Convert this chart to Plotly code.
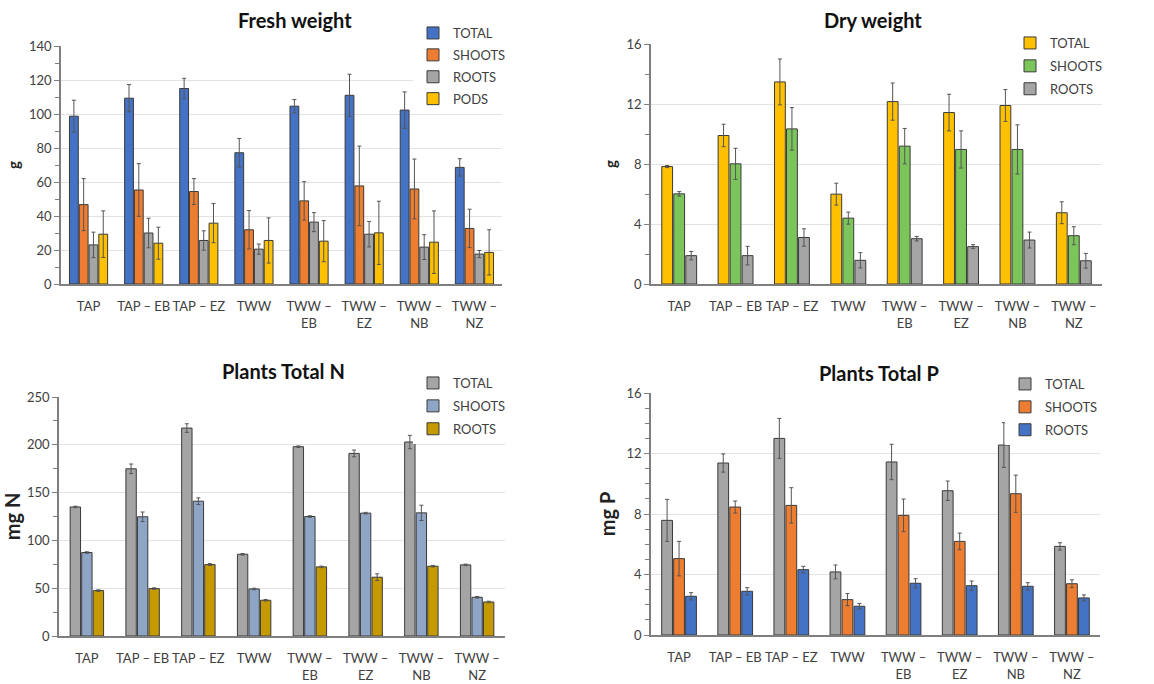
import plotly.graph_objects as go

categories = ["TAP", "TAP – EB", "TAP – EZ", "TWW", "TWW –<br>EB", "TWW –<br>EZ", "TWW –<br>NB", "TWW –<br>NZ"]

# Fresh weight (g)
fw_total = [98.7, 109.3, 115.0, 77.2, 104.6, 111.0, 102.3, 68.6]
fw_total_err = [9.4, 8.0, 6.0, 8.4, 3.9, 12.4, 10.7, 5.1]
fw_shoots = [46.7, 55.3, 54.4, 31.9, 48.9, 57.7, 55.9, 32.7]
fw_shoots_err = [15.3, 15.5, 7.6, 11.3, 11.3, 23.4, 17.6, 11.3]
fw_roots = [23.0, 30.0, 25.6, 20.5, 36.4, 29.3, 21.7, 17.6]
fw_roots_err = [7.5, 8.7, 5.7, 3.0, 5.6, 7.5, 7.3, 2.1]
fw_pods = [29.3, 24.0, 35.8, 25.6, 25.2, 30.1, 24.6, 18.6]
fw_pods_err = [13.7, 9.4, 11.5, 13.3, 12.1, 18.6, 18.4, 13.3]

# Dry weight (g)
dw_total = [7.83, 9.9, 13.47, 5.99, 12.16, 11.43, 11.9, 4.75]
dw_total_err = [0.07, 0.75, 1.53, 0.73, 1.24, 1.22, 1.06, 0.73]
dw_shoots = [6.01, 8.01, 10.34, 4.39, 9.19, 8.97, 8.97, 3.22]
dw_shoots_err = [0.15, 1.04, 1.42, 0.4, 1.18, 1.24, 1.64, 0.6]
dw_roots = [1.89, 1.89, 3.1, 1.58, 3.02, 2.49, 2.93, 1.55]
dw_roots_err = [0.28, 0.62, 0.58, 0.51, 0.15, 0.13, 0.53, 0.49]

# Plants total N (mg N)
n_total = [135, 174.9, 217.5, 85.5, 198, 191, 202.9, 74.4]
n_total_err = [0.8, 5.0, 4.5, 0.8, 0.8, 3.5, 7.0, 0.8]
n_shoots = [87.3, 124.7, 141.0, 49.2, 125.0, 128.5, 128.8, 40.5]
n_shoots_err = [0.8, 5.0, 3.5, 0.8, 0.8, 0.8, 8.0, 0.8]
n_roots = [47.5, 49.6, 74.7, 37.4, 72.3, 61.5, 73.0, 35.6]
n_roots_err = [0.8, 0.8, 1.0, 0.8, 0.8, 3.5, 0.8, 0.8]

# Plants total P (mg P)
p_total = [7.58, 11.37, 13.0, 4.17, 11.44, 9.54, 12.56, 5.86]
p_total_err = [1.39, 0.6, 1.32, 0.46, 1.17, 0.64, 1.48, 0.24]
p_shoots = [5.05, 8.46, 8.57, 2.34, 7.91, 6.19, 9.34, 3.39]
p_shoots_err = [1.14, 0.4, 1.17, 0.4, 1.08, 0.55, 1.23, 0.26]
p_roots = [2.56, 2.89, 4.32, 1.9, 3.42, 3.26, 3.22, 2.45]
p_roots_err = [0.24, 0.24, 0.22, 0.18, 0.3, 0.31, 0.24, 0.2]

BLUE = "#4472C4"
ORANGE = "#ED7D31"
GRAY = "#A5A5A5"
YELLOW = "#FFC000"
GREEN = "#7CC55A"
STEEL = "#8EA5C6"
GOLD = "#C49A00"
TXT = "#404040"
FONT = "Lato, Open Sans, sans-serif"

W, H = 1154, 684

panels = [
    dict(title="Fresh weight", ytitle="<b>g</b>", xd=(61, 502), yd=(46, 284), ymax=140, dtick=20, minor=10,
         series=[("TOTAL", fw_total, fw_total_err, BLUE), ("SHOOTS", fw_shoots, fw_shoots_err, ORANGE),
                 ("ROOTS", fw_roots, fw_roots_err, GRAY), ("PODS", fw_pods, fw_pods_err, YELLOW)],
         group=0.71, tpos=(295, 20), leg=(413, 18), gap=2, ysize=15, ystand=6),
    dict(title="Dry weight", ytitle="<b>g</b>", xd=(651, 1102), yd=(44, 284), ymax=16, dtick=4, minor=2,
         series=[("TOTAL", dw_total, dw_total_err, YELLOW), ("SHOOTS", dw_shoots, dw_shoots_err, GREEN),
                 ("ROOTS", dw_roots, dw_roots_err, GRAY)],
         group=0.64, tpos=(873, 20), leg=(1010, 28), gap=3, ysize=15, ystand=6),
    dict(title="Plants Total N", ytitle="<b>mg N</b>", xd=(59, 505), yd=(397, 636), ymax=250, dtick=50, minor=25,
         series=[("TOTAL", n_total, n_total_err, GRAY), ("SHOOTS", n_shoots, n_shoots_err, STEEL),
                 ("ROOTS", n_roots, n_roots_err, GOLD)],
         group=0.62, tpos=(283, 371), leg=(413, 368), gap=3, ysize=20, ystand=6),
    dict(title="Plants Total P", ytitle="<b>mg P</b>", xd=(651, 1100), yd=(393, 635), ymax=16, dtick=4, minor=1,
         series=[("TOTAL", p_total, p_total_err, GRAY), ("SHOOTS", p_shoots, p_shoots_err, ORANGE),
                 ("ROOTS", p_roots, p_roots_err, BLUE)],
         group=0.64, tpos=(879, 373), leg=(1005, 369), gap=3, ysize=20, ystand=6),
]

fig = go.Figure()
layout = dict(
    width=W, height=H, margin=dict(l=0, r=0, t=0, b=0, autoexpand=False),
    paper_bgcolor="white", plot_bgcolor="white",
    font=dict(family=FONT, color=TXT, size=12),
    barmode="overlay", showlegend=True, annotations=[],
)

for i, p in enumerate(panels):
    k = i + 1
    xa = "x" if k == 1 else f"x{k}"
    ya = "y" if k == 1 else f"y{k}"
    lg = "legend" if k == 1 else f"legend{k}"
    n = len(p["series"])
    slot = p["group"] / n
    bw = slot * 0.9
    for j, (name, vals, errs, col) in enumerate(p["series"]):
        off = -p["group"] / 2 + j * slot + (slot - bw) / 2
        fig.add_trace(go.Bar(
            x=list(range(len(categories))), y=vals, name=name, xaxis=xa, yaxis=ya, legend=lg,
            width=bw, offset=off, legendgroup=f"{k}_{name}",
            marker=dict(color=col, line=dict(color="#3a3a3a", width=1)),
            error_y=dict(type="data", array=errs, visible=True, color="#555555", thickness=1, width=2),
        ))
    x0, x1 = p["xd"]
    y0, y1 = p["yd"]
    layout["xaxis" if k == 1 else f"xaxis{k}"] = dict(
        domain=[x0 / W, x1 / W], anchor=ya, range=[-0.5, 7.5], automargin=False,
        tickmode="array", tickvals=list(range(len(categories))), ticktext=categories,
        showline=True, linecolor="#7f7f7f", linewidth=1.5, ticks="", showgrid=False,
        tickfont=dict(size=13, color=TXT), ticklabelstandoff=10, fixedrange=True,
    )
    layout["yaxis" if k == 1 else f"yaxis{k}"] = dict(
        domain=[1 - y1 / H, 1 - y0 / H], anchor=xa, range=[0, p["ymax"]], automargin=False,
        dtick=p["dtick"], tick0=0, showline=True, linecolor="#7f7f7f", linewidth=1.5,
        ticks="outside", ticklen=5, tickcolor="#7f7f7f",
        minor=dict(dtick=p["minor"], ticks="outside", ticklen=4, tickcolor="#7f7f7f", showgrid=False),
        showgrid=True, gridcolor="#E3E3E3", gridwidth=1, zeroline=False,
        tickfont=dict(size=13, color=TXT),
        title=dict(text=p["ytitle"], font=dict(size=p["ysize"], color="#222222", family=FONT), standoff=p["ystand"]),
        fixedrange=True,
    )
    lx, ly = p["leg"]
    layout[lg] = dict(
        x=lx / W, y=1 - ly / H, xanchor="left", yanchor="top",
        bgcolor="white", font=dict(size=13, color=TXT, family=FONT),
        tracegroupgap=p["gap"], itemwidth=30, traceorder="grouped",
    )
    layout["annotations"].append(dict(
        text=f"<b>{p['title']}</b>", x=p["tpos"][0] / W, y=1 - p["tpos"][1] / H,
        xref="paper", yref="paper", xanchor="center", yanchor="middle", showarrow=False,
        font=dict(size=20, color="#111111", family=FONT),
    ))

fig.update_layout(**layout)
fig.write_html("out.html", config={"displayModeBar": False},
               post_script="document.body.style.margin='0';document.body.style.overflow='hidden';")
